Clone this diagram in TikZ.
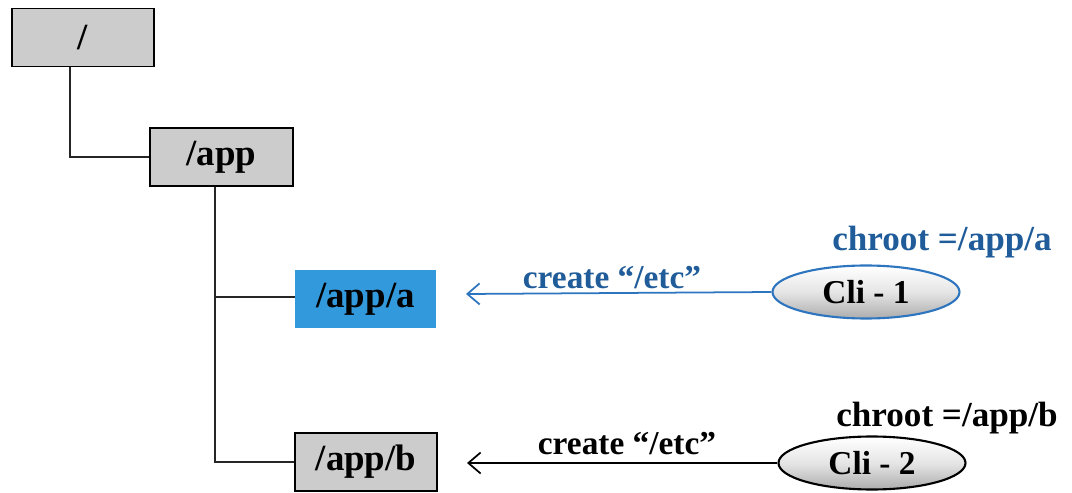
\documentclass[tikz,border=0pt]{standalone}
\usepackage{fontspec}
\setmainfont{Liberation Serif}
\usetikzlibrary{shapes.geometric,arrows.meta}
\definecolor{boxgray}{HTML}{CCCCCC}
\definecolor{boxblue}{HTML}{3399DD}
\definecolor{txtblue}{HTML}{1F5C99}
\definecolor{lineblue}{HTML}{2E75C0}
\tikzset{
  dirbox/.style={draw=black, line width=1pt, fill=boxgray, minimum width=142*0.02cm, minimum height=58*0.02cm, inner sep=0pt, font=\bfseries\fontsize{21}{24}\selectfont},
  selbox/.style={fill=boxblue, minimum width=141*0.02cm, minimum height=58*0.02cm, inner sep=0pt, font=\bfseries\fontsize{21}{24}\selectfont},
  client/.style={ellipse, line width=1.2pt, minimum width=187*0.02cm, minimum height=53*0.02cm, inner sep=0pt,
    top color=white, bottom color=gray!65, middle color=gray!20, font=\bfseries\fontsize{19}{22}\selectfont},
  tree/.style={line width=0.9pt, draw=black!85},
  req/.style={line width=1pt, -{Straight Barb[length=7pt,width=12pt]}},
  lbl/.style={font=\bfseries\fontsize{20}{23}\selectfont, inner sep=0pt},
  act/.style={font=\bfseries\fontsize{19}{22}\selectfont, inner sep=0pt}
}
\begin{document}
\begin{tikzpicture}[x=0.02cm, y=-0.02cm]
\useasboundingbox (0,0) rectangle (1072,493);

% directory tree
\node[dirbox] (root) at (83,37.5) {/};
\node[dirbox, minimum width=143*0.02cm] (app) at (221.5,157) {/app};
\node[selbox] (appa) at (365.5,299) {/app/a};
\node[dirbox] (appb) at (366,462) {/app/b};

\draw[tree] (root.south -| 70,0) |- (app.west);
\draw[tree] (app.south -| 215,0) |- (appb.west);
\draw[tree] (215,297) -- (appa.west |- 215,297);

% clients
\node[client, draw=lineblue] (cli1) at (866,292) {Cli - 1};
\node[client, draw=black] (cli2) at (872,463) {Cli - 2};

\coordinate (ta) at (466,294);
\coordinate (tb) at (467,463);
\draw[req, draw=lineblue] (cli1.west) -- (ta);
\draw[req, draw=black] (cli2.west) -- (tb);

\node[act, text=txtblue] (la) at (612,278) {create “/etc”};
\node[act] (lb) at (627,444) {create “/etc”};
\node[lbl, text=txtblue] (ca) at (942,242) {chroot =/app/a};
\node[lbl] (cb) at (947,418) {chroot =/app/b};
\end{tikzpicture}
\end{document}
